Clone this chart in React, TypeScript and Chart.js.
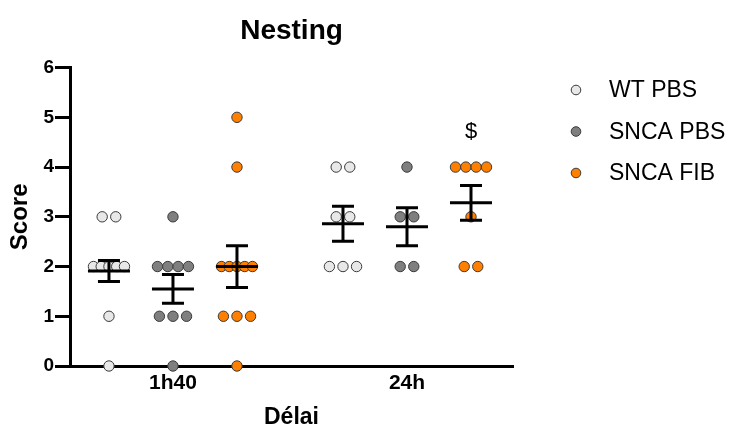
import React, { useEffect, useRef } from "react";
import { Chart, registerables } from "chart.js";

Chart.register(...registerables);

// ---- data ----
const categories = ["1h40", "24h"];
const seriesNames = ["WT PBS", "SNCA PBS", "SNCA FIB"];
const seriesColors = ["#e8e8e8", "#7f7f7f", "#ff8000"];

const wtPbs1h40 = [3, 3, 2, 2, 2, 2, 2, 1, 0];
const wtPbs24h = [4, 4, 3, 3, 2, 2, 2];
const sncaPbs1h40 = [3, 2, 2, 2, 2, 1, 1, 1, 0];
const sncaPbs24h = [4, 3, 3, 2, 2];
const sncaFib1h40 = [5, 4, 2, 2, 2, 2, 2, 1, 1, 1, 0];
const sncaFib24h = [4, 4, 4, 4, 3, 2, 2];

const wtPbsMean = [1.91, 2.86];
const wtPbsSem = [0.21, 0.35];
const sncaPbsMean = [1.55, 2.8];
const sncaPbsSem = [0.29, 0.38];
const sncaFibMean = [2.0, 3.28];
const sncaFibSem = [0.42, 0.35];

const yTicks = [0, 1, 2, 3, 4, 5, 6];
const annotationText = "$";
const annotationValue = 4.7;

const seriesPoints = [
  [wtPbs1h40, wtPbs24h],
  [sncaPbs1h40, sncaPbs24h],
  [sncaFib1h40, sncaFib24h],
];
const seriesMeans = [wtPbsMean, sncaPbsMean, sncaFibMean];
const seriesSems = [wtPbsSem, sncaPbsSem, sncaFibSem];

const groupOffset = 0.2735;

function swarm(values: number[], center: number) {
  const counts: Record<number, number> = {};
  values.forEach((v) => (counts[v] = (counts[v] || 0) + 1));
  const seen: Record<number, number> = {};
  return values.map((v) => {
    const n = counts[v];
    const i = seen[v] || 0;
    seen[v] = i + 1;
    const step = n > 1 ? Math.min(0.058, 0.1325 / (n - 1)) : 0;
    return { x: center + (i - (n - 1) / 2) * step, y: v };
  });
}

export default function App() {
  const ref = useRef<HTMLCanvasElement | null>(null);

  useEffect(() => {
    document.body.style.margin = "0";
    Chart.defaults.font.family = "'Liberation Sans', Arial, sans-serif";
    const ctx = ref.current!;

    const datasets = seriesNames.map((name, s) => {
      const data: { x: number; y: number }[] = [];
      categories.forEach((_, c) => {
        const center = c + 1 + (s - 1) * groupOffset;
        data.push(...swarm(seriesPoints[s][c], center));
      });
      return {
        label: name,
        data,
        backgroundColor: seriesColors[s],
        borderColor: "#3a3a3a",
        borderWidth: 1,
        pointRadius: 5.2,
        pointHoverRadius: 5.2,
        clip: false as any,
      };
    });

    const overlay = {
      id: "overlay",
      afterDatasetsDraw(chart: any) {
        const c = chart.ctx;
        const xs = chart.scales.x;
        const ys = chart.scales.y;
        c.save();
        c.strokeStyle = "#000";
        c.lineWidth = 3;
        c.lineCap = "butt";
        seriesNames.forEach((_, s) => {
          categories.forEach((_, ci) => {
            const cx = xs.getPixelForValue(ci + 1 + (s - 1) * groupOffset);
            const m = seriesMeans[s][ci];
            const e = seriesSems[s][ci];
            const ym = ys.getPixelForValue(m);
            const yt = ys.getPixelForValue(m + e);
            const yb = ys.getPixelForValue(m - e);
            c.beginPath();
            c.moveTo(cx - 21, ym);
            c.lineTo(cx + 21, ym);
            c.moveTo(cx, yt);
            c.lineTo(cx, yb);
            c.moveTo(cx - 11, yt);
            c.lineTo(cx + 11, yt);
            c.moveTo(cx - 11, yb);
            c.lineTo(cx + 11, yb);
            c.stroke();
          });
        });
        // annotation
        c.fillStyle = "#000";
        c.font = "22px 'Liberation Sans', Arial, sans-serif";
        c.textAlign = "center";
        c.textBaseline = "middle";
        c.fillText(
          annotationText,
          xs.getPixelForValue(2 + groupOffset),
          ys.getPixelForValue(annotationValue)
        );
        // legend
        c.font = "23px 'Liberation Sans', Arial, sans-serif";
        c.textAlign = "left";
        seriesNames.forEach((name, s) => {
          const ly = 90 + s * 41.5;
          c.beginPath();
          c.arc(576, ly, 4.8, 0, Math.PI * 2);
          c.fillStyle = seriesColors[s];
          c.fill();
          c.lineWidth = 1;
          c.strokeStyle = "#3a3a3a";
          c.stroke();
          c.fillStyle = "#000";
          c.fillText(name, 609, ly + 1);
        });
        c.restore();
      },
    };

    const chart = new Chart(ctx, {
      type: "scatter",
      data: { datasets: datasets as any },
      plugins: [overlay],
      options: {
        responsive: false,
        animation: false,
        events: [],
        layout: { padding: { left: 0, right: 218, top: 0, bottom: 0 } },
        plugins: {
          legend: { display: false },
          tooltip: { enabled: false },
          title: {
            display: true,
            text: "Nesting",
            color: "#000",
            fullSize: false,
            font: { size: 28, weight: "bold" },
            padding: { top: 14, bottom: 20 },
          },
        },
        scales: {
          x: {
            type: "linear",
            min: 0.56,
            max: 2.453,
            afterFit: (s: any) => {
              s.height = 61;
            },
            afterBuildTicks: (s: any) => {
              s.ticks = categories.map((_, i) => ({ value: i + 1 }));
            },
            ticks: {
              color: "#000",
              font: { size: 21, weight: "bold" },
              padding: 5,
              callback: (v: any) => categories[Math.round(v) - 1] ?? "",
            },
            grid: { display: false, drawTicks: false },
            border: { display: true, color: "#000", width: 3 },
            title: {
              display: true,
              text: "Délai",
              color: "#000",
              font: { size: 23, weight: "bold" },
              padding: { top: 0, bottom: -4 },
            },
          },
          y: {
            type: "linear",
            min: 0,
            max: 6,
            afterFit: (s: any) => {
              s.width = 70;
            },
            afterBuildTicks: (s: any) => {
              s.ticks = yTicks.map((v) => ({ value: v }));
            },
            ticks: {
              color: "#000",
              font: { size: 19, weight: "bold" },
              padding: 1,
            },
            grid: {
              display: true,
              drawOnChartArea: false,
              drawTicks: true,
              tickLength: 15,
              lineWidth: 3,
              color: "#000",
            },
            border: { display: true, color: "#000", width: 3 },
            title: {
              display: true,
              text: "Score",
              color: "#000",
              font: { size: 24, weight: "bold" },
              padding: { top: 6, bottom: 0 },
            },
          },
        },
      },
    });
    return () => chart.destroy();
  }, []);

  return (
    <canvas
      ref={ref}
      width={731}
      height={427}
      style={{ display: "block", width: 731, height: 427 }}
    />
  );
}
